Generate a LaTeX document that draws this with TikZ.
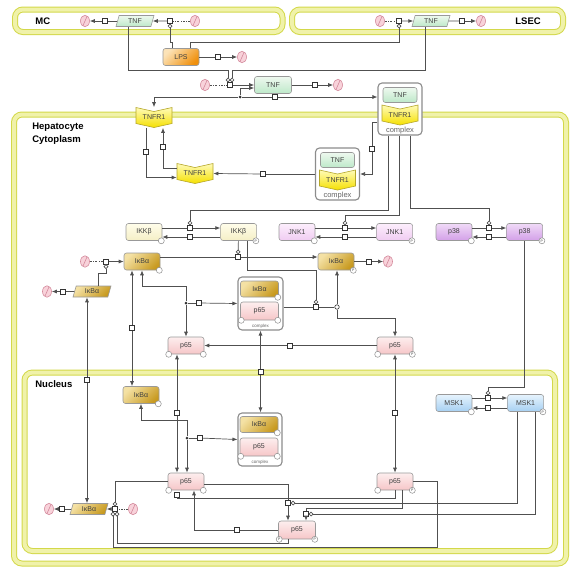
\documentclass[tikz,border=0pt]{standalone}
\usepackage{fontspec}
\setmainfont{Liberation Sans}
\usetikzlibrary{arrows.meta,calc,positioning,shapes.geometric}

\definecolor{linec}{HTML}{505050}
\definecolor{compD}{HTML}{D3D84A}
\definecolor{compL}{HTML}{F0F2AA}
\definecolor{tnfA}{HTML}{EEF9EF}
\definecolor{tnfB}{HTML}{BDE8C9}
\definecolor{lpsA}{HTML}{FCE3B8}
\definecolor{lpsB}{HTML}{F0900C}
\definecolor{ikbA}{HTML}{F4E1A4}
\definecolor{ikbB}{HTML}{C89A20}
\definecolor{p65A}{HTML}{FDEEEE}
\definecolor{p65B}{HTML}{F6C6C8}
\definecolor{ikkA}{HTML}{FFFDEA}
\definecolor{ikkB}{HTML}{F5EFC6}
\definecolor{jnkA}{HTML}{FCEEFC}
\definecolor{jnkB}{HTML}{F0CCF2}
\definecolor{p38A}{HTML}{F0DAF7}
\definecolor{p38B}{HTML}{D3A0E8}
\definecolor{mskA}{HTML}{E6F3FD}
\definecolor{mskB}{HTML}{A6D0F2}
\definecolor{rcpA}{HTML}{FFFBB8}
\definecolor{rcpB}{HTML}{F5E000}
\definecolor{rcpD}{HTML}{B5A62A}
\definecolor{sinkF}{HTML}{F8D2DA}
\definecolor{sinkD}{HTML}{D48A9C}

% receptor glyph: name, centre, label
\newcommand{\rcpt}[3]{%
  \path[rcptsh] ($#2+(-18,-10)$) -- ($#2+(0,-6)$) -- ($#2+(18,-10)$) -- ($#2+(18,6)$)
    -- ($#2+(0,10)$) -- ($#2+(-18,6)$) -- cycle;
  \node[minimum width=36pt, minimum height=20pt, inner sep=0pt] (#1) at #2 {#3};}

\begin{document}
\begin{tikzpicture}[x=1pt,y=-1pt,>={Latex[length=5pt,width=4pt]},line width=0.7pt,draw=linec,
  every node/.style={font=\fontsize{7}{8}\selectfont, text=black!75},
  comp/.style={draw=compD, line width=1pt, double=compL, double distance=4pt, rounded corners=8pt},
  complab/.style={font=\fontsize{9.5}{13}\selectfont\bfseries, text=black, anchor=west, align=left, inner sep=0pt},
  mac/.style={draw=black!40, line width=0.6pt, rounded corners=2.5pt, minimum width=36pt, minimum height=17pt, inner sep=0pt},
  parl/.style={trapezium, trapezium left angle=57, trapezium right angle=123, trapezium stretches body,
    draw=black!40, line width=0.6pt, minimum width=38pt, minimum height=11pt, inner sep=0pt},
  tnfc/.style={top color=tnfA, bottom color=tnfB},
  lpsc/.style={top color=lpsA, bottom color=lpsB, shading angle=45},
  ikbc/.style={top color=ikbA, bottom color=ikbB, shading angle=45},
  p65c/.style={top color=p65A, bottom color=p65B},
  ikkc/.style={top color=ikkA, bottom color=ikkB},
  jnkc/.style={top color=jnkA, bottom color=jnkB},
  p38c/.style={top color=p38A, bottom color=p38B},
  mskc/.style={top color=mskA, bottom color=mskB},
  rcptsh/.style={draw=rcpD, line width=0.6pt, top color=rcpA, bottom color=rcpB},
  cplx/.style={draw=black!45, line width=1.1pt, rounded corners=4pt, fill=white, minimum width=44pt, minimum height=52pt},
  cxlab/.style={font=\fontsize{7.5}{8}\selectfont, text=black!60, inner sep=0pt},
  svc/.style={circle, draw=black!45, fill=white, line width=0.5pt, minimum size=6pt, inner sep=0pt, font=\fontsize{3.5}{4}\selectfont},
  sv/.style={label={[svc, anchor=center, xshift=-1pt]south east:{}}},
  svP/.style={label={[svc, anchor=center, xshift=-1pt]south east:P}},
  svl/.style={label={[svc, anchor=center, xshift=1pt]south west:{}}},
  svlP/.style={label={[svc, anchor=center, xshift=1pt]south west:P}},
  proc/.style={draw=black!80, fill=white, minimum size=5pt, inner sep=0pt, line width=0.7pt},
  assoc/.style={circle, fill=black!80, minimum size=3pt, inner sep=0pt},
  dissoc/.style={circle, draw=black!80, fill=white, minimum size=4.5pt, inner sep=0pt, line width=0.6pt},
  sink/.style={ellipse, draw=sinkD, fill=sinkF, minimum width=9pt, minimum height=11.5pt, inner sep=0pt, line width=0.6pt,
    path picture={\draw[sinkD, line width=0.6pt] ($(path picture bounding box.south)+(-2.5pt,0)$) -- ($(path picture bounding box.north)+(2.5pt,0)$);}},
  src/.style={dash pattern=on 2pt off 1.5pt on 0.5pt off 1.5pt},
  cat/.style={-{Circle[length=4.5pt, fill=white]}}]

\useasboundingbox (0,0) rectangle (585,576);

% compartments
\draw[comp] (15,9.5) rectangle (282.5,32);
\draw[comp] (292,9.5) rectangle (563,32);
\draw[comp] (14,114.5) rectangle (566,563.5);
\draw[comp] (24.5,372.5) rectangle (555,551);
\node[complab] (mclab) at (35,21) {MC};
\node[complab] (lseclab) at (515,21) {LSEC};
\node[complab] (heplab) at (32,134) {Hepatocyte\\Cytoplasm};
\node[complab] (nuclab) at (35,384) {Nucleus};

% MC and LSEC
\node[parl, tnfc] (mctnf) at (135,21) {TNF};
\node[proc] (mcdeg) at (105,21) {};
\node[sink] (mcsnk) at (85,21) {};
\node[proc] (mcprod) at (170,21) {};
\node[sink] (mcsrc) at (195,21) {};
\draw (mctnf) -- (mcdeg);
\draw[->] (mcdeg) -- (mcsnk);
\draw[src] (mcsrc) -- (mcprod);
\draw[->] (mcprod) -- (mctnf);

\node[parl, tnfc] (lstnf) at (431,21) {TNF};
\node[proc] (lsprod) at (399,21) {};
\node[sink] (lssrc) at (380,21) {};
\node[proc] (lsdeg) at (462,21) {};
\node[sink] (lssnk) at (481,21) {};
\draw[src] (lssrc) -- (lsprod);
\draw[->] (lsprod) -- (lstnf);
\draw (lstnf) -- (lsdeg);
\draw[->] (lsdeg) -- (lssnk);

% LPS
\node[mac, lpsc] (lps) at (181,57) {LPS};
\node[proc] (lpsdeg) at (218,57) {};
\node[sink] (lpssnk) at (242,57) {};
\draw (lps) -- (lpsdeg);
\draw[->] (lpsdeg) -- (lpssnk);
\draw[cat] ([xshift=-9pt]lps.north) -- ++(0,-6) -| (mcprod);
\draw[cat] ([xshift=9pt]lps.north) -- ++(0,-6) -| (lsprod);

% extracellular TNF
\node[mac, tnfc, minimum width=37pt] (tnf) at (273,85) {TNF};
\node[proc] (tnfprod) at (230,85) {};
\node[sink] (tnfsrc) at (205,85) {};
\node[proc] (tnfdeg) at (315,85) {};
\node[sink] (tnfsnk) at (338,85) {};
\draw[src] (tnfsrc) -- (tnfprod);
\draw[->] (tnfprod) -- (tnf);
\draw (tnf) -- (tnfdeg);
\draw[->] (tnfdeg) -- (tnfsnk);
\draw[cat] ([xshift=-7pt]mctnf.south) |- (228,70) -- ([xshift=-2pt]tnfprod.north);
\draw[cat] ([xshift=-6pt]lstnf.south) |- (232,70) -- ([xshift=2pt]tnfprod.north);

% receptor and complexes
\rcpt{tr1}{(154,117.5)}{TNFR1}
\rcpt{tr2}{(195,173.5)}{TNFR1}
\node[cplx] (cx1) at (400,109) {};
\node[mac, tnfc, minimum width=34pt, minimum height=15pt] (cx1tnf) at (400,95) {TNF};
\rcpt{cx1r}{(400,115)}{TNFR1}
\node[cxlab] (cx1lab) at (400,130.5) {complex};
\node[cplx] (cx2) at (337.5,174) {};
\node[mac, tnfc, minimum width=34pt, minimum height=15pt] (cx2tnf) at (337.5,160) {TNF};
\rcpt{cx2r}{(337.5,180)}{TNFR1}
\node[cxlab] (cx2lab) at (337.5,195.5) {complex};

\node[assoc] (bdot) at (240,97) {};
\node[proc] (bproc) at (275,97) {};
\draw[->] (bdot) -| (tr1.north);
\draw (bdot) -- (bproc);
\draw[->] (bproc) -- ([yshift=12pt]cx1.west);
\draw[->] (bdot) |- ([yshift=-3pt]tnf.west);

\node[proc] (inproc) at (146,152) {};
\node[proc] (recproc) at (163,147) {};
\draw ([xshift=-8pt]tr1.south) -- (inproc);
\draw[->] (inproc) |- ([yshift=-4pt]tr2.west);
\draw ([yshift=5pt]tr2.west) -| (recproc);
\draw[->] (recproc) -- (recproc |- tr1.south);

\node[proc] (intproc) at (372,149) {};
\draw ([yshift=-13pt]cx1.west) -| (intproc);
\draw[->] (intproc) |- (cx2.east);
\node[proc] (rproc) at (263,174) {};
\draw (cx2.west) -- (rproc);
\draw[->] (rproc) -- (tr2.east);

% kinases
\node[mac, ikkc, sv] (ikk0) at (144,232) {IKKβ};
\node[mac, ikkc, svP] (ikk1) [right=58pt of ikk0] {IKKβ};
\node[mac, jnkc, sv] (jnk0) at (297,232) {JNK1};
\node[mac, jnkc, svP] (jnk1) [right=61pt of jnk0] {JNK1};
\node[mac, p38c, sv] (p380) at (454,232) {p38};
\node[mac, p38c, svP] (p381) [right=34pt of p380] {p38};
\node[proc] (ikkact) at (190,228) {};
\node[proc] (ikkina) at (190,237) {};
\node[proc] (jnkact) at (345,228) {};
\node[proc] (jnkina) at (345,237) {};
\node[proc] (p38act) at (489,228) {};
\node[proc] (p38ina) at (489,237) {};
\draw ([yshift=4pt]ikk0.east) -- (ikkact);
\draw[->] (ikkact) -- ([yshift=4pt]ikk1.west);
\draw ([yshift=-5pt]ikk1.west) -- (ikkina);
\draw[->] (ikkina) -- ([yshift=-5pt]ikk0.east);
\draw ([yshift=4pt]jnk0.east) -- (jnkact);
\draw[->] (jnkact) -- ([yshift=4pt]jnk1.west);
\draw ([yshift=-5pt]jnk1.west) -- (jnkina);
\draw[->] (jnkina) -- ([yshift=-5pt]jnk0.east);
\draw ([yshift=4pt]p380.east) -- (p38act);
\draw[->] (p38act) -- ([yshift=4pt]p381.west);
\draw ([yshift=-5pt]p381.west) -- (p38ina);
\draw[->] (p38ina) -- ([yshift=-5pt]p380.east);
\draw[cat] ([xshift=-12pt]cx1.south) -- ++(0,75) -| (ikkact);
\draw[cat] ([xshift=-1pt]cx1.south) -- ++(0,80) -| (jnkact);
\draw[cat] ([xshift=10pt]cx1.south) -- ++(0,73) -| (p38act);

% IkBa in the cytoplasm
\node[mac, ikbc, sv] (ikba) at (142,261.5) {IκBα};
\node[mac, ikbc, svP] (ikbap) at (336,261.5) {IκBα};
\node[proc] (phproc) at (238,257) {};
\draw ([yshift=4.5pt]ikba.east) -- (phproc);
\draw[->] (phproc) -- ([yshift=4.5pt]ikbap.west);
\draw[cat] (ikk1) -- (phproc);
\node[proc] (ikbdeg) at (369,261.5) {};
\node[sink] (ikbsnk) at (388,261.5) {};
\draw (ikbap) -- (ikbdeg);
\draw[->] (ikbdeg) -- (ikbsnk);
\node[proc] (ikbprod) at (106,261.5) {};
\node[sink] (ikbsrc) at (85,261.5) {};
\draw[src] (ikbsrc) -- (ikbprod);
\draw[->] (ikbprod) -- (ikba);

\node[parl, ikbc] (mrna1) at (92,291.5) {IκBα};
\node[proc] (mr1deg) at (63,291.5) {};
\node[sink] (mr1snk) at (47,291.5) {};
\draw (mrna1) -- (mr1deg);
\draw[->] (mr1deg) -- (mr1snk);
\draw[cat] ([xshift=6pt]mrna1.north) -- ++(0,-12) -| (ikbprod);

% IkBa:p65 complex in the cytoplasm
\node[cplx, minimum width=45pt, minimum height=53pt] (cxc) at (260.5,303.5) {};
\node[mac, ikbc, sv, minimum width=38pt, minimum height=16pt] (cxcikb) at (259.5,289) {IκBα};
\node[mac, p65c, sv, svl, minimum width=38pt, minimum height=18pt] (cxcp65) at (259.5,311) {p65};
\node[cxlab, font=\fontsize{4.5}{5}\selectfont] (cxclab) at (260.5,326.5) {complex};

\node[mac, p65c, sv, svl] (p65c1) at (186,345.5) {p65};
\node[mac, p65c, svP, svl] (p65c2) at (395,345.5) {p65};

\node[assoc] (asdot) at (186,303) {};
\node[proc] (asproc) at (199,303) {};
\draw[->] (asdot) -- ++(0,-17) -| (ikba.south);
\draw[->] (asdot) -- (asdot |- p65c1.north);
\draw (asdot) -- (asproc);
\draw[->] (asproc) -- (cxc.west);

\node[proc] (dgproc) at (316,307) {};
\node[dissoc] (dgdot) at (337,307) {};
\draw ([yshift=-3.5pt]cxc.east) -- (dgproc);
\draw (dgproc) -- (dgdot);
\draw[->] (dgdot) -- (dgdot |- ikbap.south);
\draw[->] (dgdot) -- ++(0,11) -| (p65c2);
\draw[cat] ([xshift=9pt]ikk1.south) -- ++(0,29.5) -| (dgproc);

\node[proc] (dpproc) at (290,345.5) {};
\draw (p65c2) -- (dpproc);
\draw[->] (dpproc) -- (p65c1);

% nucleus
\node[mac, ikbc, sv] (ikbn) at (141,395) {IκBα};
\node[cplx, minimum width=44pt, minimum height=53pt] (cxn) at (260,439.5) {};
\node[mac, ikbc, sv, minimum width=38pt, minimum height=16pt] (cxnikb) at (259,424.5) {IκBα};
\node[mac, p65c, sv, svl, minimum width=38pt, minimum height=18pt] (cxnp65) at (259,447) {p65};
\node[cxlab, font=\fontsize{4.5}{5}\selectfont] (cxnlab) at (260,462.5) {complex};
\node[mac, p65c, sv, svl] (p65n1) at (186,481.5) {p65};
\node[mac, p65c, svP, svl] (p65n2) at (395,481.5) {p65};
\node[mac, p65c, svP, svlP, minimum width=37pt, minimum height=18pt] (p65n3) at (297,530) {p65};
\node[parl, ikbc] (mrna2) at (89,509) {IκBα};

% transport between cytoplasm and nucleus
\node[proc] (trm) at (87,380) {};
\draw[->] (trm) -- (trm |- mrna1.south);
\draw[->] (trm) -- (trm |- mrna2.north);
\node[proc] (trik) at (132,328) {};
\draw[->] (trik) -- (trik |- ikba.south);
\draw[->] (trik) -- (trik |- ikbn.north);
\node[proc] (trp1) at (177,413) {};
\draw[->] (trp1) -- (trp1 |- p65c1.south);
\draw[->] (trp1) -- (trp1 |- p65n1.north);
\node[proc] (trcx) at (260.5,372) {};
\draw[->] (trcx) -- (trcx |- cxc.south);
\draw[->] (trcx) -- (trcx |- cxn.north);
\node[proc] (trp2) at (395,413) {};
\draw[->] (trp2) -- (trp2 |- p65c2.south);
\draw[->] (trp2) -- (trp2 |- p65n2.north);

\node[assoc] (asdot2) at (187,438) {};
\node[proc] (asproc2) at (200,438) {};
\draw[->] (asdot2) -- ++(0,-18) -| (ikbn.south);
\draw[->] (asdot2) -- (asdot2 |- p65n1.north);
\draw (asdot2) -- (asproc2);
\draw[->] (asproc2) -- (cxn.west);

% MSK1
\node[mac, mskc, sv] (msk0) at (454,403) {MSK1};
\node[mac, mskc, svP] (msk1) [right=35pt of msk0] {MSK1};
\node[proc] (mskact) at (488,398) {};
\node[proc] (mskina) at (488,408) {};
\draw ([yshift=5pt]msk0.east) -- (mskact);
\draw[->] (mskact) -- ([yshift=5pt]msk1.west);
\draw ([yshift=-5pt]msk1.west) -- (mskina);
\draw[->] (mskina) -- ([yshift=-5pt]msk0.east);
\draw[cat] (p381.south) -- ++(0,146.5) -| (mskact);

% p65 phosphorylation in the nucleus
\node[proc] (phn1) at (288,503) {};
\node[proc] (phn2) at (306,514) {};
\node[proc] (dephn) at (237,530) {};
\node[proc] (dephn2) at (177,494.5) {};
\draw ([yshift=-3pt]p65n1.east) -| (phn1);
\draw[->] (phn1) -- (phn1 |- p65n3.north);
\draw[cat] ([xshift=-8pt]msk1.south) |- (phn1);
\draw ([xshift=7pt]p65n2.south) -- ++(0,18.5) -| (phn2);
\draw[cat] ([xshift=10pt]msk1.south) |- (phn2);
\draw[->] (phn2) -- (phn2 |- p65n3.north);
\draw (p65n3) -- (dephn);
\draw[->] (dephn) -| ([xshift=8pt]p65n1.south);
\draw (p65n2.south) -- ++(0,8) -| (dephn2);

% IkBa mRNA in the nucleus
\node[proc] (mr2deg) at (62,509) {};
\node[sink] (mr2snk) at (49,509) {};
\node[proc] (mrprod) at (115,509) {};
\node[sink] (mrsrc) at (133,509) {};
\draw (mrna2) -- (mr2deg);
\draw[->] (mr2deg) -- (mr2snk);
\draw[src] (mrsrc) -- (mrprod);
\draw[->] (mrprod) -- (mrna2);
\draw[cat] (p65n1.west) -| (mrprod);
\draw[cat] (p65n2.east) -- ++(24,0) -- ++(0,65.5) -| ([xshift=-2pt]mrprod.south);
\draw[cat] ([xshift=-9pt]p65n3.south) -- ++(0,4) -| ([xshift=2pt]mrprod.south);
\end{tikzpicture}
\end{document}
